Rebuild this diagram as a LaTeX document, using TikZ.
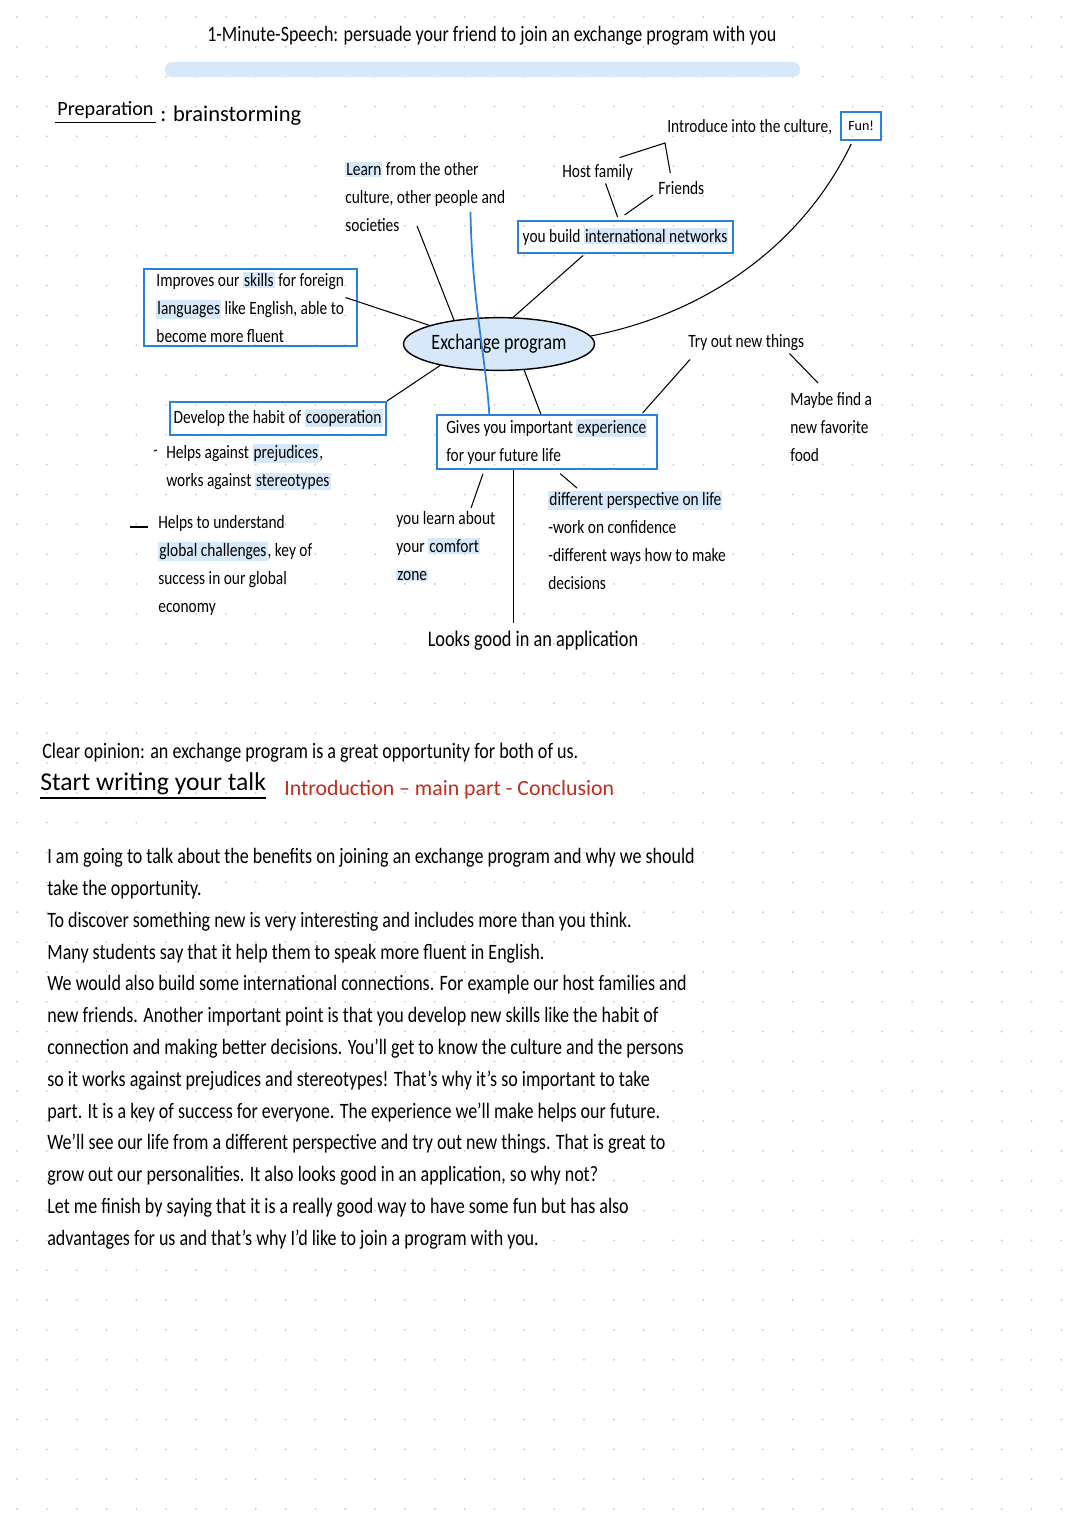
\documentclass[tikz,border=0pt]{standalone}
\usepackage{fontspec}
\setmainfont{Carlito}[FakeStretch=0.82]
\newfontfamily\penfont{Carlito}
\usetikzlibrary{shapes.geometric}

\definecolor{boxblue}{RGB}{45,130,215}
\definecolor{hlblue}{RGB}{214,232,250}
\definecolor{penred}{RGB}{190,45,30}
\definecolor{dotgray}{RGB}{205,205,205}

\newcommand{\hlw}[1]{{\setlength{\fboxsep}{0.6pt}\colorbox{hlblue}{#1}}}
\newcommand{\mapsize}{\fontsize{10.7}{15.9}\selectfont}

\begin{document}
\begin{tikzpicture}[x=0.02cm, y=-0.02cm,
  note/.style={align=left, inner sep=0pt, font=\mapsize},
  box/.style={draw=boxblue, line width=1.1pt, align=left, font=\mapsize, inner sep=2pt},
  link/.style={line width=0.6pt}]
\fill[white] (0,0) rectangle (1080,1526);
\useasboundingbox (0,0) rectangle (1080,1526);

% dotted paper
\foreach \i in {0,...,35}
  \foreach \j in {0,...,50}
    \fill[dotgray] (17+29.84*\i, 17+29.84*\j) circle (0.6pt);

% heading
\node[anchor=west, inner sep=0pt, font=\fontsize{12.5}{14}\selectfont] (title) at (207,36)
  {1-Minute-Speech: persuade your friend to join an exchange program with you};
\fill[hlblue, rounded corners=4pt] (165,62) rectangle (800,77);

\node[anchor=west, inner sep=0pt, font=\penfont\fontsize{11.5}{13}\selectfont] (prep) at (57,110) {Preparation};
\draw[link] ([shift={(-2,4)}]prep.south west) -- ([shift={(2,4)}]prep.south east);
\node[anchor=west, inner sep=0pt, font=\penfont\fontsize{12.8}{14}\selectfont] (brain) at (160,116) {: brainstorming};

% mind map
\node[draw, ellipse, fill=hlblue, line width=0.8pt, minimum width=99.8pt, minimum height=30pt, inner sep=0pt,
  font=\fontsize{12.5}{14}\selectfont] (ex) at (499,344) {Exchange program};

\node[note, anchor=north west] (learn) at (345,162) {\hlw{Learn} from the other\\culture, other people and\\societies};
\node[box, anchor=north west, minimum width=122.5pt, minimum height=18pt, align=center] (net) at (517,220)
  {you build \hlw{international networks}};
\node[note, anchor=west] (host) at (562,172) {Host family};
\node[note, anchor=west] (friends) at (658,188) {Friends};
\node[note, anchor=west] (intro) at (667,127) {Introduce into the culture,};
\node[box, anchor=west, minimum width=23pt, minimum height=16pt, inner sep=1pt,
  font=\penfont\fontsize{8}{9}\selectfont] (fun) at (840,126) {Fun!};

\node[box, anchor=north west, minimum width=121pt, minimum height=43.7pt] (skills) at (143,268)
  {Improves our \hlw{skills} for foreign\\\hlw{languages} like English, able to\\become more fluent};
\node[box, anchor=north west, minimum width=123pt, minimum height=18.7pt, align=center] (coop) at (169,401)
  {Develop the habit of \hlw{cooperation}};
\node[note, anchor=north west] (prej) at (166,444) {Helps against \hlw{prejudices},\\works against \hlw{stereotypes}};
\node[note, anchor=north west] (global) at (158,515)
  {Helps to understand\\\hlw{global challenges}, key of\\success in our global\\economy};

\node[box, anchor=north west, minimum width=125pt, minimum height=30.6pt] (life) at (436,414)
  {Gives you important \hlw{experience}\\for your future life};
\node[note, anchor=north west] (comfort) at (396,511) {you learn about\\your \hlw{comfort}\\\hlw{zone}};
\node[note, anchor=north west] (persp) at (548,491)
  {\hlw{different perspective on life}\\-work on confidence\\-different ways how to make\\decisions};
\node[anchor=center, inner sep=0pt, font=\fontsize{12.7}{14}\selectfont] (looks) at (533,641) {Looks good in an application};

\node[note, anchor=west] (try) at (688,343) {Try out new things};
\node[note, anchor=north west] (food) at (790,392) {Maybe find a\\new favorite\\food};

% connectors
\draw[link] ([shift={(72,-6)}]learn.south west) -- (ex.152);
\draw[link] ([shift={(-12,-10)}]skills.east) -- (ex.165);
\draw[link] (ex.62) -- ([shift={(66,2)}]net.south west);
\draw[link] ([shift={(-8,-3)}]net.north) -- ([shift={(8,3)}]host.south);
\draw[link] ([shift={(-1,-5)}]net.north) -- ([shift={(-5,0)}]friends.south west);
\draw[link] ([shift={(22,-6)}]host.north) -- (665,143) -- ([shift={(-11,-8)}]friends.north);
\draw[link] (ex.5) .. controls (700,315) and (800,250) .. ([shift={(-10,3)}]fun.south);
\draw[link] (ex.200) -- (coop.north east);
\draw[link] (ex.-46) -- ([shift={(-6,0)}]life.north);
\draw[link] ([shift={(2,8)}]try.south west) -- ([shift={(-15,-1)}]life.north east);
\draw[link] ([shift={(-15,2)}]try.south east) -- ([shift={(28,-9)}]food.north west);
\draw[link] ([shift={(47,4)}]life.south west) -- ([shift={(75,-3)}]comfort.north west);
\draw[link] ([xshift=-19pt]life.south) -- ([xshift=-19pt, yshift=4.5pt]life.south |- looks.north);
\draw[link] ([shift={(13.5,4)}]life.south) -- ([shift={(29,-3)}]persp.north west);
\draw[boxblue, line width=1pt] ([shift={(-35,-20)}]learn.south east) .. controls (472,300) and (486,360)
  .. ([shift={(-57.5,0)}]life.north);

% dashes before the notes
\draw[link] ([shift={(-12,7)}]prej.north west) -- ([shift={(-9,6)}]prej.north west);
\draw[link] ([shift={(-28,12)}]global.north west) -- ([shift={(-10,12)}]global.north west);

% writing the talk
\node[anchor=west, inner sep=0pt, font=\fontsize{12.55}{14}\selectfont] (opinion) at (42,753)
  {Clear opinion: an exchange program is a great opportunity for both of us.};
\node[anchor=west, inner sep=0pt, font=\penfont\fontsize{14.6}{16}\selectfont] (start) at (40,784) {Start writing your talk};
\draw[link, line width=0.9pt] ([yshift=-1.5pt]start.south west) -- ([yshift=-1.5pt]start.south east);
\node[anchor=west, inner sep=0pt, text=penred, font=\penfont\fontsize{12.4}{14}\selectfont] (parts) at (284,790)
  {Introduction \textendash{} main part - Conclusion};

\node[anchor=north west, align=left, inner sep=0pt, font=\fontsize{12.5}{18.1}\selectfont] (speech) at (47,848)
  {I am going to talk about the benefits on joining an exchange program and why we should\\
   take the opportunity.\\
   To discover something new is very interesting and includes more than you think.\\
   Many students say that it help them to speak more fluent in English.\\
   We would also build some international connections. For example our host families and\\
   new friends. Another important point is that you develop new skills like the habit of\\
   connection and making better decisions. You'll get to know the culture and the persons\\
   so it works against prejudices and stereotypes! That's why it's so important to take\\
   part. It is a key of success for everyone. The experience we'll make helps our future.\\
   We'll see our life from a different perspective and try out new things. That is great to\\
   grow out our personalities. It also looks good in an application, so why not?\\
   Let me finish by saying that it is a really good way to have some fun but has also\\
   advantages for us and that's why I'd like to join a program with you.};
\end{tikzpicture}
\end{document}
